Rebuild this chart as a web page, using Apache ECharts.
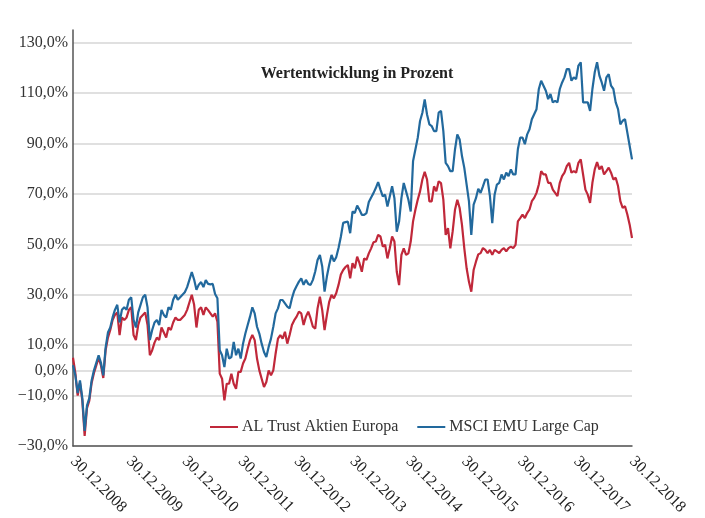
<!DOCTYPE html>
<html>
<head>
<meta charset="utf-8">
<title>Wertentwicklung</title>
<script src="https://cdn.jsdelivr.net/npm/echarts@6/dist/echarts.min.js"></script>
<style>
  html, body { margin: 0; padding: 0; background: #fff; }
  #chart { width: 705px; height: 518px; }
</style>
</head>
<body>
<div id="chart"></div>
<script>
// Jahresmarken an der x-Achse
var tickLabels = ['30.12.2008', '30.12.2009', '30.12.2010', '30.12.2011', '30.12.2012', '30.12.2013',
  '30.12.2014', '30.12.2015', '30.12.2016', '30.12.2017', '30.12.2018']
// Gitterlinien / Beschriftungen der y-Achse (in %)
var yTicks = [-30, -10, 0, 10, 30, 50, 70, 90, 110, 130]

// halbmonatliche Werte (24 pro Jahr)
var alTrust = [
  5, -1, -10, -5, -12, -26, -15, -12, -5, -1,
  2, 5, 2, -3, 8, 13, 16, 20, 22, 23,
  14, 21, 20, 21, 24, 25, 14, 12, 18, 21,
  22, 23, 18, 6, 8, 11, 13, 12, 17, 15,
  13, 17, 16, 19, 21, 20, 20, 21, 22, 24,
  27, 30, 26, 17, 24, 25, 22, 25, 23.9, 22.6,
  21.3, 22.6, 19.3, -1.3, -3.3, -11.9, -5.3, -5.3, -1.3, -5.3,
  -7.3, -0.6, -0.6, 2.7, 4.7, 8.6, 12, 14, 12, 4.7,
  0, -3.3, -6.6, -4.6, 0, -2, 0, 6.7, 12.6, 14,
  12.6, 15.3, 10.6, 14, 18, 19.9, 21.3, 23.3, 22.6, 18,
  21.3, 23.3, 20.6, 17.3, 16.6, 24.6, 29.2, 23.9, 16, 21.9,
  27.2, 29.9, 28.6, 30.6, 33.9, 38, 39.8, 41, 41.8, 36.5,
  42.5, 40.5, 45.1, 42.5, 39.1, 44.4, 43.8, 46.4, 48.4, 50.8,
  51.1, 53.7, 53.1, 49.1, 49.8, 44.4, 48.4, 53.1, 51.1, 39.1,
  33.8, 45.8, 48.4, 45.8, 46.4, 51.1, 59.1, 63.7, 67.7, 71,
  75.7, 78.7, 75.7, 67, 67, 73, 71, 75, 74.3, 67.7,
  53.7, 56.4, 48.4, 55.1, 63.7, 67.7, 64.4, 57.7, 48.4, 40.5,
  35.1, 31.2, 39.8, 43.1, 46, 46.5, 48.5, 47.8, 46.5, 47.8,
  45.8, 47.8, 47.2, 46.5, 47.8, 48.5, 47.2, 48.5, 49.1, 48.5,
  49.8, 59.1, 60.4, 61.8, 60.4, 62.4, 63.8, 67.1, 68.4, 70.4,
  73.7, 79, 77.7, 77.7, 74.4, 74.4, 71.7, 70.4, 69.1, 74.4,
  77, 78.4, 81, 82.3, 78.4, 79, 78.4, 82.3, 83.7, 77.7,
  71.7, 69.7, 66.4, 74.4, 79.7, 82.6, 79.7, 81, 77.7, 79,
  80.4, 78.4, 75.7, 76.4, 73.1, 67.1, 64.4, 65.1, 61.8, 57.8, 52.5
]
var msciEmu = [
  2, -2, -9, -4, -11, -24, -14, -11, -4, 0,
  3, 6, 3, -2, 9, 15, 17, 21, 24, 26,
  19, 24, 25, 24, 28, 29, 20, 17, 23, 26,
  29, 30, 25, 12, 16, 19, 20, 18, 24, 22,
  21, 25, 24, 28, 30, 28, 29, 30, 31, 33,
  36, 39, 36, 32, 34, 35, 33, 35.8, 34.3, 34.1,
  34.3, 30.3, 28.6, 8, 6, 1.3, 8.6, 4.7, 5.3, 11.3,
  6, 8.6, 4.7, 10.6, 14.6, 18, 21.3, 25, 22.6, 17.3,
  14.6, 10.6, 7.3, 5.3, 9.3, 12.6, 17.3, 22.6, 24.6, 27.9,
  27.9, 26.6, 25.3, 24.6, 28.6, 31.6, 33.5, 35.2, 36.5, 33.9,
  35.9, 34.3, 33.9, 35.9, 39.2, 43.8, 45.8, 41.2, 31.2, 37.2,
  41.9, 45.8, 43.2, 44.9, 48.5, 53, 58.5, 58.8, 59, 54.4,
  63, 62.4, 65.4, 63.7, 61.7, 61.7, 62.4, 66.8, 68.6, 70.3,
  72.3, 74.7, 71.7, 69, 69.7, 65, 69, 73, 68.3, 55,
  59, 68.3, 74.3, 71, 67.7, 63, 83, 87.6, 92.2, 98.9,
  102.2, 107.5, 101.5, 97.6, 96.9, 94.9, 94.9, 102.2, 102.9, 94.9,
  82.3, 81, 79, 79, 87.6, 93.6, 91.6, 85, 80.3, 73.7,
  67, 53.7, 65.7, 68.3, 72, 70.4, 73, 75.7, 75.7, 69.1,
  58.4, 69.7, 73.7, 74.4, 77.7, 75.7, 78.4, 77, 79.7, 77.7,
  77.7, 87.7, 92.3, 92.3, 89.7, 93.6, 95.6, 99.6, 101.6, 103.6,
  111.6, 114.9, 112.9, 110.9, 107.6, 109.6, 106.3, 106.9, 106.3, 111.6,
  114.2, 116.2, 119.5, 119.5, 114.9, 116.2, 115.5, 120.9, 122.2, 106.3,
  106.3, 106.3, 102.9, 111.6, 118.2, 122.2, 116.9, 114.2, 110.9, 116.2,
  117.5, 112.9, 111.6, 106.3, 103.6, 97.6, 99, 99.6, 94.3, 89, 83.7
]

// Kategorien: ein Eintrag je Halbmonat
var categories = alTrust.map(function (v, i) { return i })

var font = '"Liberation Serif", "Times New Roman", serif'

var option = {
  animation: false,
  textStyle: { fontFamily: font },
  title: {
    text: 'Wertentwicklung in Prozent',
    left: 352,
    top: 61,
    textAlign: 'center',
    textStyle: { fontFamily: font, fontSize: 16, fontWeight: 'bold', color: '#222' }
  },
  legend: {
    data: ['AL Trust Aktien Europa', 'MSCI EMU Large Cap'],
    left: 205,
    top: 414,
    icon: 'rect',
    itemWidth: 28,
    itemHeight: 2,
    itemGap: 19,
    textStyle: { fontFamily: font, fontSize: 16, color: '#333', padding: [0, 0, 0, -1] }
  },
  grid: {
    left: 73,
    right: 73,
    top: 30,
    bottom: 72,
    // Raster fest lassen, auch wenn Beschriftungen nah am Rand liegen
    outerBoundsMode: 'none'
  },
  xAxis: {
    type: 'category',
    boundaryGap: false,
    data: categories,
    // Achse unten am Rand, nicht auf der Nulllinie
    axisLine: { onZero: false, lineStyle: { color: '#555', width: 1.5 } },
    axisTick: { show: false },
    splitLine: { show: false },
    axisLabel: {
      interval: 23,
      rotate: -45,
      margin: 13,
      fontFamily: font,
      fontSize: 16,
      color: '#222',
      formatter: function (value, index) {
        return tickLabels[Math.round(index / 24)]
      }
    }
  },
  yAxis: {
    type: 'value',
    min: -30,
    max: 135,
    axisLine: { show: true, lineStyle: { color: '#555', width: 1.5 } },
    axisTick: { show: false, customValues: yTicks },
    splitLine: { show: true, lineStyle: { color: '#d6d6d6', width: 1.5 } },
    axisLabel: {
      customValues: yTicks,
      margin: 5,
      fontFamily: font,
      fontSize: 16,
      color: '#333',
      formatter: function (v) {
        return v.toFixed(1).replace('.', ',').replace('-', '\u2212') + '%'
      }
    }
  },
  series: [
    {
      name: 'AL Trust Aktien Europa',
      type: 'line',
      data: alTrust,
      symbol: 'none',
      lineStyle: { color: '#c0283a', width: 2.2 },
      itemStyle: { color: '#c0283a' }
    },
    {
      name: 'MSCI EMU Large Cap',
      type: 'line',
      data: msciEmu,
      symbol: 'none',
      lineStyle: { color: '#22699d', width: 2.2 },
      itemStyle: { color: '#22699d' }
    }
  ]
}

var myChart = echarts.init(document.getElementById('chart'))
myChart.setOption(option)
</script>
</body>
</html>
